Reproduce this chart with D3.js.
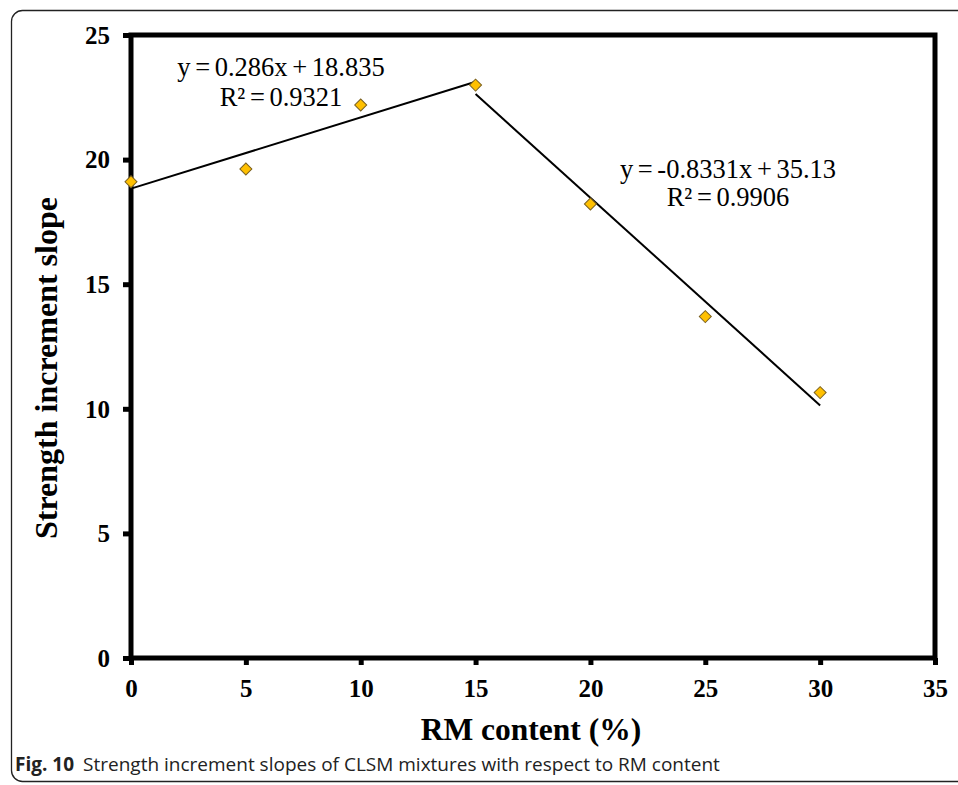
<!DOCTYPE html>
<html>
<head>
<meta charset="utf-8">
<script src="https://cdn.jsdelivr.net/npm/d3@7"></script>
<style>
  html, body { margin: 0; padding: 0; background: #fff; }
  svg { display: block; }
</style>
</head>
<body>
<svg id="chart" width="958" height="785"></svg>
<script>
// RM content (%) and measured strength increment slopes
const rmContent = [0, 5, 10, 15, 20, 25, 30];
const slopes = [19.11, 19.62, 22.19, 22.99, 18.22, 13.70, 10.65];

// Linear fits for the two branches
const fitRising = { slope: 0.286, intercept: 18.835, from: 0, to: 15, eq: "y = 0.286x + 18.835", r2: "R² = 0.9321" };
const fitFalling = { slope: -0.8331, intercept: 35.13, from: 15, to: 30, eq: "y = -0.8331x + 35.13", r2: "R² = 0.9906" };

const xTicks = [0, 5, 10, 15, 20, 25, 30, 35];
const yTicks = [0, 5, 10, 15, 20, 25];

const svg = d3.select("#chart");
const serif = "'Liberation Serif', 'Times New Roman', serif";

// Figure frame
svg.append("rect")
  .attr("x", 11.5).attr("y", 10.5)
  .attr("width", 980).attr("height", 771)
  .attr("rx", 11).attr("ry", 11)
  .attr("fill", "none").attr("stroke", "#222").attr("stroke-width", 1.3);

const plot = { left: 131, right: 935, top: 35, bottom: 658 };

const x = d3.scaleLinear().domain([0, 35]).range([plot.left, plot.right]);
const y = d3.scaleLinear().domain([0, 25]).range([plot.bottom, plot.top]);

// Bottom axis
const xAxis = svg.append("g")
  .attr("transform", `translate(0,${plot.bottom})`)
  .call(d3.axisBottom(x).tickValues(xTicks).tickSize(7).tickPadding(14).tickFormat(d3.format("d")));
xAxis.select(".domain").remove();
xAxis.selectAll(".tick line").attr("stroke", "#000").attr("stroke-width", 5);
xAxis.selectAll(".tick text")
  .attr("font-family", serif).attr("font-weight", "bold").attr("font-size", 25).attr("fill", "#000");

// Left axis
const yAxis = svg.append("g")
  .attr("transform", `translate(${plot.left},0)`)
  .call(d3.axisLeft(y).tickValues(yTicks).tickSize(8).tickPadding(13).tickFormat(d3.format("d")));
yAxis.select(".domain").remove();
yAxis.selectAll(".tick line").attr("stroke", "#000").attr("stroke-width", 5);
yAxis.selectAll(".tick text")
  .attr("font-family", serif).attr("font-weight", "bold").attr("font-size", 25).attr("fill", "#000")
  .attr("dy", "0.33em");

// Plot border
svg.append("rect")
  .attr("x", plot.left).attr("y", plot.top)
  .attr("width", plot.right - plot.left).attr("height", plot.bottom - plot.top)
  .attr("fill", "none").attr("stroke", "#000").attr("stroke-width", 5)
  .attr("stroke-linejoin", "miter");

// Trend lines
[fitRising, fitFalling].forEach(f => {
  svg.append("line")
    .attr("x1", x(f.from)).attr("y1", y(f.slope * f.from + f.intercept))
    .attr("x2", x(f.to)).attr("y2", y(f.slope * f.to + f.intercept))
    .attr("stroke", "#000").attr("stroke-width", 2);
});

// Data markers (diamonds)
svg.append("g").selectAll("path")
  .data(rmContent.map((d, i) => [d, slopes[i]]))
  .join("path")
  .attr("d", d3.symbol().type(d3.symbolSquare).size(72))
  .attr("transform", d => `translate(${x(d[0])},${y(d[1])}) rotate(45)`)
  .attr("fill", "#FFC000").attr("stroke", "#7a6020").attr("stroke-width", 1);

// Fit equations
function annotate(f, cx, y1, y2) {
  const g = svg.append("g")
    .attr("font-family", serif).attr("font-size", 26.5).attr("fill", "#000")
    .attr("text-anchor", "middle");
  g.append("text").attr("x", cx).attr("y", y1).attr("word-spacing", -2).text(f.eq);
  g.append("text").attr("x", cx).attr("y", y2).attr("word-spacing", -2).text(f.r2);
}
annotate(fitRising, 281, 76, 106);
annotate(fitFalling, 728, 178, 206);

// Axis titles
svg.append("text")
  .attr("x", 531).attr("y", 740)
  .attr("text-anchor", "middle")
  .attr("font-family", serif).attr("font-weight", "bold").attr("font-size", 31.5)
  .text("RM content (%)");

svg.append("text")
  .attr("transform", "translate(57,368) rotate(-90)")
  .attr("text-anchor", "middle")
  .attr("font-family", serif).attr("font-weight", "bold").attr("font-size", 32)
  .text("Strength increment slope");

// Caption
const cap = svg.append("text")
  .attr("x", 15).attr("y", 771)
  .attr("font-family", "'Open Sans', sans-serif").attr("font-size", 19).attr("fill", "#222");
cap.append("tspan").attr("font-weight", "bold").text("Fig. 10");
cap.append("tspan").attr("dx", 9).text("Strength increment slopes of CLSM mixtures with respect to RM content");
</script>
</body>
</html>
